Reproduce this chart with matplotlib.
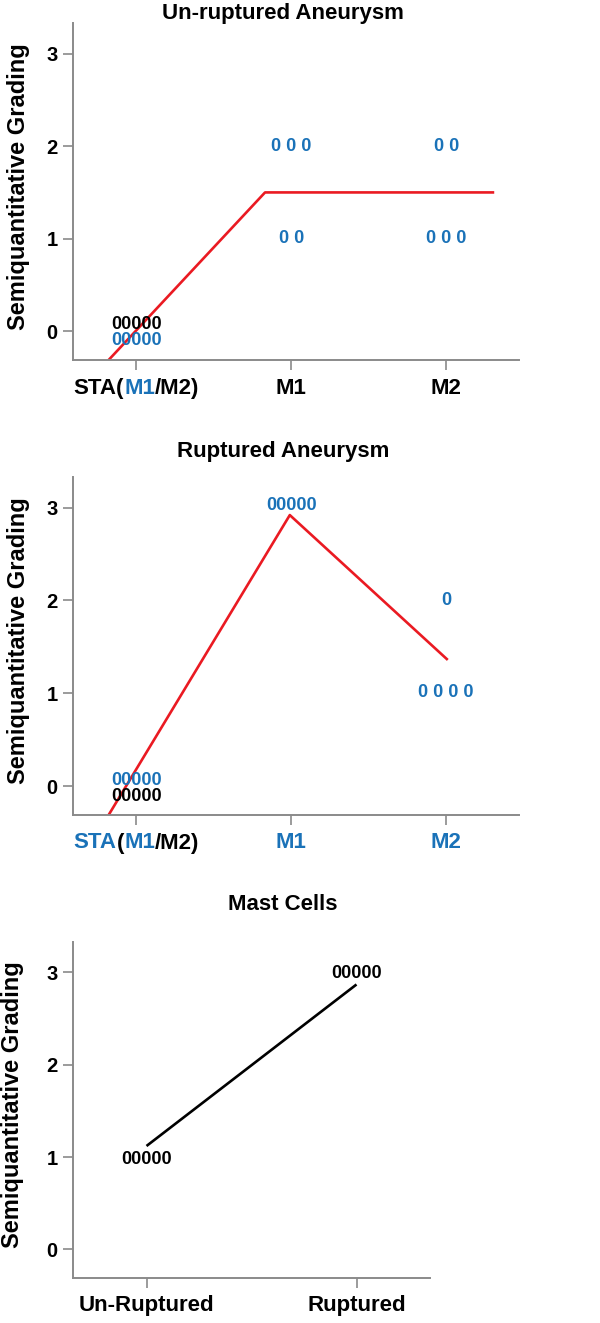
import matplotlib.pyplot as plt
from matplotlib.offsetbox import TextArea, HPacker, AnnotationBbox

plt.rcParams["font.family"] = ["Liberation Sans", "DejaVu Sans"]
plt.rcParams["font.weight"] = "bold"

BLUE = "#1a72b8"
RED = "#ea1a22"
GREY = "#8a8a8a"

# --- Un-ruptured aneurysm ---
unrup_cats = ["STA(M1/M2)", "M1", "M2"]
unrup_tick_parts = [[("STA(", "k"), ("M1", "b"), ("/M2)", "k")],
                    [("M1", "k")],
                    [("M2", "k")]]
unrup_line_x = [-0.18, 0.83, 2.31]
unrup_line_y = [-0.31, 1.50, 1.50]
unrup_mark_x = [0, 0, 1, 1, 2, 2]
unrup_mark_y = [0.07, -0.10, 2, 1, 2, 1]
unrup_mark_txt = ["00000", "00000", "0 0 0", "0 0", "0 0", "0 0 0"]
unrup_mark_col = ["k", "b", "b", "b", "b", "b"]

# --- Ruptured aneurysm ---
rup_cats = ["STA(M1/M2)", "M1", "M2"]
rup_tick_parts = [[("STA", "b"), ("(", "k"), ("M1", "b"), ("/M2)", "k")],
                  [("M1", "b")],
                  [("M2", "b")]]
rup_line_x = [-0.18, 0.99, 2.01]
rup_line_y = [-0.31, 2.92, 1.36]
rup_mark_x = [0, 0, 1, 2, 2]
rup_mark_y = [0.06, -0.11, 3.02, 2, 1.01]
rup_mark_txt = ["00000", "00000", "00000", "0", "0 0 0 0"]
rup_mark_col = ["b", "k", "b", "b", "b"]

# --- Mast cells ---
mast_cats = ["Un-Ruptured", "Ruptured"]
mast_tick_parts = [[("Un-Ruptured", "k")], [("Ruptured", "k")]]
mast_line_x = [0.0, 1.0]
mast_line_y = [1.12, 2.87]
mast_mark_x = [0, 1]
mast_mark_y = [0.97, 2.99]
mast_mark_txt = ["00000", "00000"]
mast_mark_col = ["k", "k"]

yticks = [0, 1, 2, 3]
cmap = {"k": "black", "b": BLUE}


def draw_panel(fig, rect, cats, parts, lx, ly, lcol, mx, my, mtxt, mcol, xlim,
               title, title_y, ylab_x):
    ax = fig.add_axes(rect)
    ax.plot(lx, ly, color=lcol, lw=1.9, solid_capstyle="butt")
    for x, y, t, c in zip(mx, my, mtxt, mcol):
        ax.text(x, y, t, color=cmap[c], fontsize=13, fontweight="bold",
                ha="center", va="center")
    ax.set_xlim(*xlim)
    ax.set_ylim(-0.31, 3.33)
    ax.set_yticks(yticks)
    ax.set_xticks(range(len(cats)))
    ax.set_xticklabels([""] * len(cats))
    ax.tick_params(axis="y", labelsize=14.5, length=7, width=1.2, color=GREY, pad=4)
    ax.tick_params(axis="x", length=7, width=1.2, color=GREY)
    for s in ["top", "right"]:
        ax.spines[s].set_visible(False)
    for s in ["left", "bottom"]:
        ax.spines[s].set_color(GREY)
        ax.spines[s].set_linewidth(1.4)
    # multi-coloured category labels
    for i, p in enumerate(parts):
        boxes = [TextArea(t, textprops=dict(color=cmap[c], fontsize=16,
                                            fontweight="bold")) for t, c in p]
        pack = HPacker(children=boxes, pad=0, sep=0, align="baseline")
        ab = AnnotationBbox(pack, (i, 0), xycoords=ax.get_xaxis_transform(),
                            xybox=(0, -28), boxcoords="offset pixels",
                            box_alignment=(0.5, 0.5), frameon=False,
                            annotation_clip=False)
        ax.add_artist(ab)
    fig.text(283 / 600, title_y, title, fontsize=16, fontweight="bold",
             ha="center", va="center")
    y0, y1 = rect[1], rect[1] + rect[3]
    fig.text(ylab_x, (y0 + y1) / 2 + 0.004, "Semiquantitative Grading", rotation=90,
             fontsize=17, fontweight="bold", ha="center", va="center")
    return ax


fig = plt.figure(figsize=(6, 13.23), dpi=100)
H = 1323.0

draw_panel(fig, [73 / 600, 1 - 360 / H, (519 - 73) / 600, (360 - 23) / H],
           unrup_cats, unrup_tick_parts, unrup_line_x, unrup_line_y, RED,
           unrup_mark_x, unrup_mark_y, unrup_mark_txt, unrup_mark_col,
           (-0.41, 2.47), "Un-ruptured Aneurysm", 1 - 13.5 / H, 19 / 600)

draw_panel(fig, [73 / 600, 1 - 815 / H, (519 - 73) / 600, (815 - 477) / H],
           rup_cats, rup_tick_parts, rup_line_x, rup_line_y, RED,
           rup_mark_x, rup_mark_y, rup_mark_txt, rup_mark_col,
           (-0.41, 2.47), "Ruptured Aneurysm", 1 - 451 / H, 19 / 600)

draw_panel(fig, [73 / 600, 1 - 1278 / H, (430 - 73) / 600, (1278 - 942) / H],
           mast_cats, mast_tick_parts, mast_line_x, mast_line_y, "black",
           mast_mark_x, mast_mark_y, mast_mark_txt, mast_mark_col,
           (-0.35, 1.35), "Mast Cells", 1 - 905 / H, 13 / 600)

fig.savefig("out.png", dpi=100)
